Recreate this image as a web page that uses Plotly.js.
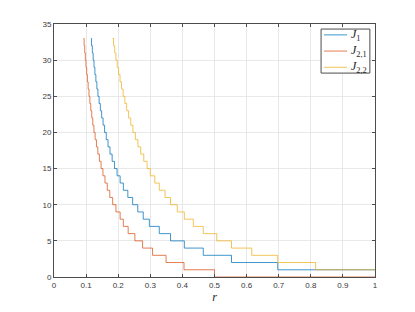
<!DOCTYPE html>
<html>
<head>
<meta charset="utf-8">
<script src="https://cdn.plot.ly/plotly-3.0.1.min.js"></script>
<style>html,body{margin:0;padding:0;background:#fff;}#chart{width:415px;height:312px;}</style>
</head>
<body>
<div id="chart"></div>
<script>
// Step levels (J values) from 33 down to 1
var levels = [33,32,31,30,29,28,27,26,25,24,23,22,21,20,19,18,17,16,15,14,13,12,11,10,9,8,7,6,5,4,3,2,1];

// r where each level starts, ordered level 33 -> 1
var rJ1 = [0.1147,0.1170,0.1194,0.1220,0.1246,0.1274,0.1304,0.1336,0.1369,0.1405,0.1444,0.1485,0.1529,0.1576,0.1628,0.1683,0.1744,0.1811,0.1884,0.1965,0.206,0.216,0.230,0.245,0.261,0.278,0.297,0.328,0.363,0.406,0.465,0.553,0.697];
var rJ21 = [0.0921,0.0938,0.0957,0.0976,0.0996,0.1018,0.1041,0.1064,0.1090,0.1117,0.1145,0.1176,0.1208,0.1244,0.1281,0.1322,0.1366,0.1414,0.1467,0.1525,0.1588,0.1659,0.1738,0.1828,0.1930,0.206,0.216,0.231,0.252,0.276,0.307,0.349,0.405];
var rJ21zero = 0.500;   // J_{2,1} drops to 0 here
var rJ22 = [0.1820,0.1855,0.1891,0.1930,0.1970,0.2012,0.2057,0.2104,0.2154,0.2208,0.2264,0.2325,0.2390,0.2459,0.2534,0.2615,0.2702,0.2797,0.2901,0.300,0.314,0.328,0.346,0.363,0.384,0.406,0.434,0.465,0.507,0.553,0.616,0.697,0.815];
var rEnd = 1.0;

var xTicks = [0,0.1,0.2,0.3,0.4,0.5,0.6,0.7,0.8,0.9,1];
var xTickText = ['0','0.1','0.2','0.3','0.4','0.5','0.6','0.7','0.8','0.9','1'];
var yTicks = [0,5,10,15,20,25,30,35];

var names = ['<i>J</i><sub>1</sub>', '<i>J</i><sub>2,1</sub>', '<i>J</i><sub>2,2</sub>'];
var colors = ['#0072BD', '#D95319', '#EDB120'];

var traces = [
  {x: rJ1.concat([rEnd]), y: levels.concat([1])},
  {x: rJ21.concat([rJ21zero, rEnd]), y: levels.concat([0, 0])},
  {x: rJ22.concat([rEnd]), y: levels.concat([1])}
].map(function(t, i){
  return {x: t.x, y: t.y, type: 'scatter', mode: 'lines', name: names[i], showlegend: false,
          line: {shape: 'hv', color: colors[i], width: 1}, opacity: 0.75};
});

// Legend (MATLAB style box) drawn in paper coordinates
var legBox = {x0: 0.832, x1: 0.984, y0: 0.806, y1: 0.980};
var legRows = [0.957, 0.893, 0.829];
var shapes = [{type: 'rect', xref: 'paper', yref: 'paper', x0: legBox.x0, x1: legBox.x1, y0: legBox.y0, y1: legBox.y1,
               line: {color: '#4d4d4d', width: 1}, fillcolor: '#ffffff', layer: 'above'}];
var annotations = [];
legRows.forEach(function(yy, i){
  shapes.push({type: 'line', xref: 'paper', yref: 'paper', x0: 0.841, x1: 0.913, y0: yy, y1: yy,
               line: {color: colors[i], width: 1}, opacity: 0.75, layer: 'above'});
  annotations.push({xref: 'paper', yref: 'paper', x: 0.918, y: yy, xanchor: 'left', yanchor: 'middle',
                    text: names[i], showarrow: false,
                    font: {family: 'Liberation Serif, serif', size: 12, color: '#262626'}});
});

var axisCommon = {
  showline: true, linecolor: '#4d4d4d', linewidth: 1, mirror: 'ticks',
  ticks: 'inside', ticklen: 3, tickcolor: '#4d4d4d', tickwidth: 1,
  showgrid: true, gridcolor: '#e8e8e8', gridwidth: 1, zeroline: false,
  tickfont: {family: 'Liberation Sans, Arial, sans-serif', size: 8, color: '#3a3a3a'}
};

var layout = {
  width: 415, height: 312,
  margin: {l: 54, r: 40, t: 24, b: 35},
  paper_bgcolor: '#ffffff', plot_bgcolor: '#ffffff',
  showlegend: false,
  xaxis: Object.assign({}, axisCommon, {
    range: [0, 1], tickvals: xTicks, ticktext: xTickText,
    title: {text: '<i>r</i>', font: {family: 'Liberation Serif, serif', size: 12, color: '#262626'}, standoff: 2}
  }),
  yaxis: Object.assign({}, axisCommon, {
    range: [0, 35], tickvals: yTicks
  }),
  shapes: shapes,
  annotations: annotations
};

Plotly.newPlot('chart', traces, layout, {staticPlot: true, displayModeBar: false});
</script>
</body>
</html>
